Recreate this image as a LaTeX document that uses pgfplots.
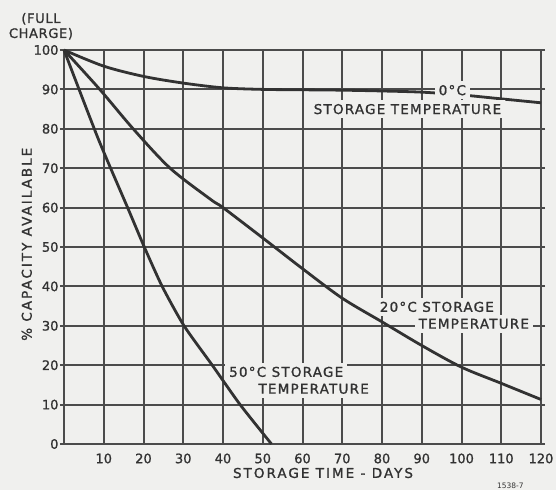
\documentclass[border=0pt]{standalone}
\usepackage{pgfplots}
\pgfplotsset{compat=1.18}
\usepackage{fontspec}
\setmainfont{DejaVu Sans}
\newfontfamily\labfont{DejaVu Sans}[LetterSpace=9, FakeBold=1.2]
\newfontfamily\axfont{DejaVu Sans}[LetterSpace=15, FakeBold=1.2]
\newfontfamily\numfont{DejaVu Sans}[FakeBold=1.2]
\newfontfamily\topfont{DejaVu Sans}[LetterSpace=5, FakeBold=1.2]
\usetikzlibrary{backgrounds}

\definecolor{paper}{RGB}{240,240,238}
\definecolor{ink}{RGB}{50,50,50}
\definecolor{gridc}{RGB}{75,75,75}

\tikzset{lab/.style={font=\labfont\fontsize{13.5}{14}\selectfont, text=ink,
    fill=paper, inner xsep=4pt, inner ysep=4pt}}

\begin{document}
\begin{tikzpicture}[inner frame sep=0pt,
    background rectangle/.style={fill=paper}, show background rectangle]
\begin{axis}[
    scale only axis,
    width=477pt, height=394pt,
    xmin=0, xmax=120, ymin=0, ymax=100,
    xtick={10,20,...,120},
    ytick={0,10,...,100},
    xmajorgrids, ymajorgrids,
    major grid style={draw=gridc, line width=2pt},
    axis line style={draw=gridc, line width=2pt},
    tick align=outside,
    major tick length=4pt,
    xtick style={draw=gridc, line width=2pt, /pgfplots/major tick length=0pt},
    ytick style={draw=gridc, line width=2pt},
    ticklabel style={font=\numfont\fontsize{13}{13}\selectfont, text=ink},
    xticklabel style={yshift=-2pt},
    yticklabel style={xshift=2pt},
    /pgf/number format/assume math mode=true,
    clip=false,
]
% 0 C storage
\addplot[ink, line width=2.8pt, smooth, tension=0.5] coordinates {
    (0,100) (10,95.9) (20,93.3) (30,91.6) (40,90.4) (50,90.0) (60,89.9)
    (70,89.8) (80,89.6) (90,89.3) (100,88.6) (110,87.6) (120,86.6)
};
% 20 C storage
\addplot[ink, line width=2.8pt, smooth, tension=0.5] coordinates {
    (0,100) (9,90) (17.4,80) (26.7,70) (37,62) (40,60) (50,52.3) (60,44.5)
    (70,37) (80,31) (90,25) (100,19.5) (110,15.4) (120,11.3)
};
% 50 C storage
\addplot[ink, line width=2.8pt, smooth, tension=0.4] coordinates {
    (0,100) (8.6,77.5) (16,60) (20.2,50) (24.7,40) (30.2,30) (37.3,20)
    (44.3,10) (52.2,0)
};

\node[lab] at (axis cs:97.7,89.8) {0°C};
\node[lab] at (axis cs:86.4,85.0) {STORAGE TEMPERATURE};
\node[lab] at (axis cs:93.8,34.8) {20°C STORAGE};
\node[lab] at (axis cs:103.1,30.5) {TEMPERATURE};
\node[lab] at (axis cs:55.9,18.3) {50°C STORAGE};
\node[lab] at (axis cs:62.8,14.0) {TEMPERATURE};

\node[lab, fill=none, rotate=90, font=\axfont\fontsize{13.5}{14}\selectfont]
    at (rel axis cs:-0.078,0.507) {\% CAPACITY AVAILABLE};
\node[lab, fill=none, font=\axfont\fontsize{13.5}{14}\selectfont]
    at (rel axis cs:0.543,-0.0736) {STORAGE TIME - DAYS};
\node[lab, fill=none, align=center, font=\topfont\fontsize{13}{15}\selectfont]
    at (axis cs:-5.8,106.0) {(FULL\\CHARGE)};
\node[text=ink, font=\fontsize{7.5}{8}\selectfont] at (axis cs:112.3,-10.7) {1538-7};

\coordinate (o) at (rel axis cs:0,0);
\coordinate (t) at (rel axis cs:1,1);
\end{axis}
\pgfresetboundingbox
\path[use as bounding box] ([shift={(-64pt,-46pt)}]o) rectangle ([shift={(15pt,50pt)}]t);
\end{tikzpicture}
\end{document}
